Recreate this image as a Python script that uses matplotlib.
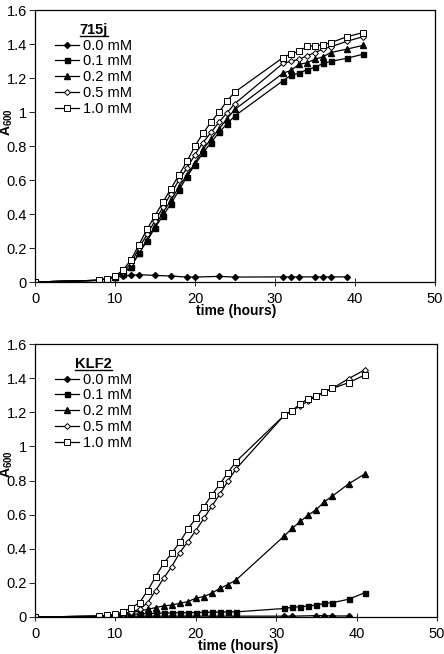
import matplotlib
matplotlib.use('Agg')
import matplotlib.pyplot as plt
from matplotlib.lines import Line2D

plt.rcParams['font.family'] = ['Liberation Sans', 'DejaVu Sans']
plt.rcParams['mathtext.fontset'] = 'custom'
plt.rcParams['mathtext.rm'] = 'Liberation Sans'
plt.rcParams['mathtext.bf'] = 'Liberation Sans:bold'

labels = ['0.0 mM', '0.1 mM', '0.2 mM', '0.5 mM', '1.0 mM']

# ---- time points ----
t_main = [0, 8, 9, 10, 11, 12, 13, 14, 15, 16, 17, 18, 19, 20, 21, 22, 23, 24, 25,
          31, 32, 33, 34, 35, 36, 37, 39, 41]
t_zero_715j = [0, 8, 9, 10, 11, 12, 13, 15, 17, 19, 20, 23, 25, 31, 32, 33, 35, 36, 37, 39]
t_zero_klf2 = [0, 8, 9, 10, 11, 12, 13, 14, 15, 17, 19, 20, 22, 23, 25, 31, 32, 35, 36, 37, 39]

# ---- 715j ----
j_00 = [0, 0.01, 0.02, 0.03, 0.035, 0.039, 0.043, 0.039, 0.035, 0.029, 0.029, 0.033, 0.029,
        0.03, 0.03, 0.03, 0.03, 0.03, 0.03, 0.03]
j_01 = [0, 0.01, 0.02, 0.03, 0.05, 0.09, 0.17, 0.24, 0.32, 0.39, 0.46, 0.54, 0.62, 0.69, 0.76,
        0.82, 0.88, 0.93, 0.978, 1.184, 1.216, 1.228, 1.249, 1.263, 1.286, 1.298, 1.316, 1.34]
j_02 = [0, 0.01, 0.02, 0.03, 0.055, 0.09, 0.17, 0.25, 0.33, 0.41, 0.48, 0.56, 0.63, 0.70, 0.78,
        0.84, 0.90, 0.96, 1.016, 1.228, 1.245, 1.28, 1.29, 1.31, 1.325, 1.35, 1.37, 1.392]
j_05 = [0, 0.01, 0.02, 0.03, 0.06, 0.11, 0.20, 0.28, 0.36, 0.44, 0.52, 0.60, 0.67, 0.75, 0.82,
        0.88, 0.94, 0.996, 1.05, 1.286, 1.298, 1.31, 1.33, 1.35, 1.37, 1.384, 1.416, 1.443]
j_10 = [0, 0.01, 0.02, 0.035, 0.07, 0.13, 0.22, 0.31, 0.39, 0.47, 0.55, 0.63, 0.71, 0.80, 0.875,
        0.94, 1.0, 1.065, 1.118, 1.32, 1.343, 1.357, 1.386, 1.39, 1.396, 1.408, 1.443, 1.467]

# ---- KLF2 ----
k_00 = [0, 0.002, 0.003, 0.004, 0.005, 0.005, 0.005, 0.005, 0.005, 0.005, 0.005, 0.005, 0.005,
        0.005, 0.005, 0.005, 0.005, 0.008, 0.008, 0.006, 0.006]
k_01 = [0, 0.005, 0.008, 0.01, 0.012, 0.015, 0.018, 0.02, 0.022, 0.023, 0.024, 0.025, 0.025,
        0.026, 0.027, 0.028, 0.029, 0.03, 0.03, 0.05, 0.057, 0.06, 0.064, 0.07, 0.08, 0.084,
        0.104, 0.142]
k_02 = [0, 0.005, 0.01, 0.015, 0.02, 0.025, 0.035, 0.045, 0.055, 0.065, 0.07, 0.08, 0.09, 0.11,
        0.12, 0.14, 0.168, 0.19, 0.217, 0.475, 0.52, 0.56, 0.598, 0.63, 0.676, 0.709, 0.78, 0.838]
k_05 = [0, 0.005, 0.01, 0.012, 0.02, 0.03, 0.045, 0.084, 0.154, 0.227, 0.295, 0.377, 0.441,
        0.506, 0.578, 0.65, 0.72, 0.797, 0.868, 1.182, 1.21, 1.237, 1.268, 1.295, 1.32, 1.34,
        1.397, 1.448]
k_10 = [0, 0.005, 0.01, 0.015, 0.031, 0.055, 0.084, 0.154, 0.236, 0.315, 0.373, 0.438, 0.514,
        0.578, 0.647, 0.715, 0.78, 0.846, 0.91, 1.182, 1.21, 1.25, 1.28, 1.295, 1.32, 1.34,
        1.373, 1.418]

x_ticks = [0, 10, 20, 30, 40, 50]
y_ticks = [0, 0.2, 0.4, 0.6, 0.8, 1.0, 1.2, 1.4, 1.6]
y_ticklabels = ['0', '0.2', '0.4', '0.6', '0.8', '1', '1.2', '1.4', '1.6']

styles = [
    dict(marker='D', ms=3.0, mfc='black', mec='black'),
    dict(marker='s', ms=3.6, mfc='black', mec='black'),
    dict(marker='^', ms=4.2, mfc='black', mec='black'),
    dict(marker='D', ms=3.0, mfc='white', mec='black', mew=0.7),
    dict(marker='s', ms=3.8, mfc='white', mec='black', mew=0.7),
]

fig = plt.figure(figsize=(4.44, 6.54), dpi=100)
W, H = 444, 654


def make_panel(rect, title, series, xlabel_pos, ylabel_y):
    ax = fig.add_axes(rect)
    handles = []
    for (tx, ty), lab, st in zip(series, labels, styles):
        h, = ax.plot(tx, ty, color='black', lw=0.9, label=lab, **st)
        handles.append(h)
    ax.set_xlim(0, 50)
    ax.set_ylim(0, 1.6)
    ax.set_xticks(x_ticks)
    ax.set_yticks(y_ticks)
    ax.set_yticklabels(y_ticklabels)
    ax.tick_params(axis='y', direction='out', length=4, width=0.6, labelsize=10.5, pad=2)
    ax.tick_params(axis='x', direction='inout', length=6, width=0.6, labelsize=10.5, pad=4)
    for s in ax.spines.values():
        s.set_linewidth(0.9)
    leg = ax.legend(handles=handles, loc='upper left', bbox_to_anchor=(0.025, 0.99),
                    frameon=False, fontsize=10.5, handlelength=1.6, handletextpad=0.3,
                    labelspacing=0.12, borderpad=0.2, title=title,
                    title_fontproperties={'weight': 'bold', 'size': 10.5})
    ax.text(-0.07, ylabel_y, r'$\mathbf{A_{600}}$', transform=ax.transAxes,
            rotation=90, ha='center', va='center', fontsize=10)
    fig.text(xlabel_pos[0] / W, 1 - xlabel_pos[1] / H, 'time (hours)',
             ha='center', va='center', fontsize=10, fontweight='bold')
    return ax, leg


ax1, leg1 = make_panel([35 / W, 1 - 282 / H, 400 / W, 272 / H], '715j',
                       [(t_zero_715j, j_00), (t_main, j_01), (t_main, j_02),
                        (t_main, j_05), (t_main, j_10)],
                       (236, 311), 0.59)
ax2, leg2 = make_panel([35 / W, 1 - 617 / H, 402 / W, 273 / H], 'KLF2',
                       [(t_zero_klf2, k_00), (t_main, k_01), (t_main, k_02),
                        (t_main, k_05), (t_main, k_10)],
                       (238, 646), 0.56)

fig.canvas.draw()
for leg in (leg1, leg2):
    bb = leg.get_title().get_window_extent()
    y = bb.y0 + 0.5
    fig.add_artist(Line2D([bb.x0 / W, bb.x1 / W], [y / H, y / H], color='black', lw=1.0,
                          transform=fig.transFigure))

fig.savefig('out.png', dpi=100)
